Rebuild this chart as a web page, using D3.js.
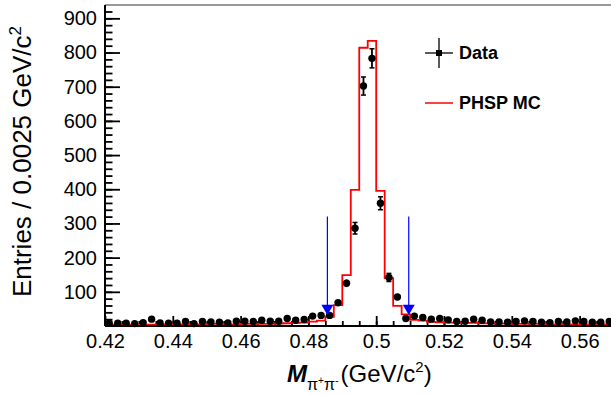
<!DOCTYPE html>
<html>
<head>
<meta charset="utf-8">
<script src="https://cdn.jsdelivr.net/npm/d3@7"></script>
<style>
body { margin: 0; background: #fff; }
svg text { font-family: "Liberation Sans", Arial, Helvetica, sans-serif; }
</style>
</head>
<body>
<div id="chart"></div>
<script>
// histogram binning (GeV/c^2)
var binLow = 0.42;
var binWidth = 0.0025;

// data entries per bin
var dataCounts = [8, 8, 8, 7, 10, 20, 9, 8, 8, 13, 7, 13, 12, 11,
    9, 14, 14, 13, 17, 14, 14, 22, 17, 19, 29, 31, 31, 68,
    125, 286, 702, 783, 359, 142, 85,
    22, 29, 25, 20, 22, 18, 13, 14, 20, 17, 12, 12, 11, 13, 15, 13, 11, 10, 13, 12, 15, 13, 11, 11, 13];

// phase space MC, same binning
var mcCounts = [4, 4, 4, 4, 4, 4, 5, 5, 5, 5,
    5, 5, 6, 6, 5, 5, 6, 6, 6, 6, 7, 8, 9, 10, 13, 16, 27,
    61, 149, 398, 814, 834, 395, 140, 59,
    34, 18, 16, 12, 11, 10, 10, 9, 9, 8, 8,
    7, 7, 6, 6, 6, 6, 5, 5, 5, 5, 5, 5, 5, 5];

// mass window cuts marked with arrows
var cutValues = [0.4856, 0.5096];

var xTickValues = [0.42, 0.44, 0.46, 0.48, 0.50, 0.52, 0.54, 0.56];
var yTickValues = [100, 200, 300, 400, 500, 600, 700, 800, 900];
var legendLabels = ["Data", "PHSP MC"];

var width = 611, height = 396;
var margin = {top: 5, left: 105, bottom: 70};

var svg = d3.select("#chart").append("svg")
    .attr("width", width)
    .attr("height", height);

// x goes on past the right border, the picture is cut there
var x = d3.scaleLinear().domain([0.42, 0.58]).range([margin.left, margin.left + 0.16 * 3390]);
var y = d3.scaleLinear().domain([0, 939]).range([height - margin.bottom, margin.top]);

var bins = dataCounts.map(function (d, i) {
    return {lo: binLow + i * binWidth, mid: binLow + (i + 0.5) * binWidth, n: d, mc: mcCounts[i]};
});

// minor ticks
svg.append("g")
    .attr("transform", "translate(0," + y(0) + ")")
    .call(d3.axisBottom(x).tickValues(d3.range(0, 31).map(i => 0.42 + i * 0.005)).tickSize(-5).tickFormat(""))
    .call(g => g.select(".domain").remove());
svg.append("g")
    .attr("transform", "translate(" + x(0.42) + ",0)")
    .call(d3.axisLeft(y).tickValues(d3.range(20, 939, 20)).tickSize(-7.5).tickFormat(""))
    .call(g => g.select(".domain").remove());

// major ticks with labels
var xAxis = svg.append("g")
    .attr("transform", "translate(0," + y(0) + ")")
    .call(d3.axisBottom(x).tickValues(xTickValues).tickSize(-10).tickPadding(8)
        .tickFormat(d => String(+d.toFixed(2))))
    .call(g => g.select(".domain").remove());
xAxis.selectAll("text").style("font-size", "20px").attr("fill", "#000");

var yAxis = svg.append("g")
    .attr("transform", "translate(" + x(0.42) + ",0)")
    .call(d3.axisLeft(y).tickValues(yTickValues).tickSize(-15).tickPadding(8))
    .call(g => g.select(".domain").remove());
yAxis.selectAll("text").style("font-size", "20px").attr("fill", "#000");

svg.selectAll(".tick line").attr("stroke", "#000").attr("stroke-width", 1.8);

// MC histogram as steps
var stepPts = bins.map(d => [d.lo, d.mc]);
stepPts.push([binLow + bins.length * binWidth, mcCounts[mcCounts.length - 1]]);
svg.append("path")
    .attr("d", d3.line().x(d => x(d[0])).y(d => y(d[1])).curve(d3.curveStepAfter)(stepPts))
    .attr("fill", "none")
    .attr("stroke", "#ff0000")
    .attr("stroke-width", 1.8);

// data error bars (sqrt N) and points
var pts = svg.append("g");
pts.selectAll(".err")
    .data(bins)
    .enter()
    .append("line")
    .attr("x1", d => x(d.mid))
    .attr("x2", d => x(d.mid))
    .attr("y1", d => y(d.n - Math.sqrt(d.n)))
    .attr("y2", d => y(d.n + Math.sqrt(d.n)))
    .attr("stroke", "#000")
    .attr("stroke-width", 1.8);
[-1, 1].forEach(function (s) {
    pts.selectAll(".cap" + s)
        .data(bins.filter(d => Math.sqrt(d.n) * 0.342 > 4))
        .enter()
        .append("line")
        .attr("x1", d => x(d.mid) - 2.5)
        .attr("x2", d => x(d.mid) + 2.5)
        .attr("y1", d => y(d.n + s * Math.sqrt(d.n)))
        .attr("y2", d => y(d.n + s * Math.sqrt(d.n)))
        .attr("stroke", "#000")
        .attr("stroke-width", 1.5);
});
pts.selectAll("circle")
    .data(bins)
    .enter()
    .append("circle")
    .attr("cx", d => x(d.mid))
    .attr("cy", d => y(d.n))
    .attr("r", 3.7)
    .attr("fill", "#000");

// cut arrows
var arrows = svg.selectAll(".cut")
    .data(cutValues)
    .enter()
    .append("g");
arrows.append("line")
    .attr("x1", d => x(d))
    .attr("x2", d => x(d))
    .attr("y1", y(320))
    .attr("y2", y(50))
    .attr("stroke", "#0000ff")
    .attr("stroke-width", 1.2);
arrows.append("path")
    .attr("d", d => "M" + (x(d) - 6) + "," + y(62) + "L" + (x(d) + 6) + "," + y(62) + "L" + x(d) + "," + y(32) + "Z")
    .attr("fill", "#0000ff");

// frame
svg.append("line")
    .attr("x1", x(0.42)).attr("x2", width)
    .attr("y1", margin.top).attr("y2", margin.top)
    .attr("stroke", "#777").attr("stroke-width", 1.5);
svg.append("line")
    .attr("x1", x(0.42)).attr("x2", x(0.42))
    .attr("y1", margin.top).attr("y2", y(0))
    .attr("stroke", "#000").attr("stroke-width", 2);
svg.append("line")
    .attr("x1", x(0.42)).attr("x2", width)
    .attr("y1", y(0)).attr("y2", y(0))
    .attr("stroke", "#000").attr("stroke-width", 2);

// axis titles
var yTitle = svg.append("text")
    .attr("transform", "translate(31,26) rotate(-90)")
    .attr("text-anchor", "end")
    .style("font-size", "26px");
yTitle.append("tspan").text("Entries / 0.0025 GeV/c");
yTitle.append("tspan").attr("dy", -10).style("font-size", "17px").text("2");

var xTitle = svg.append("text")
    .attr("x", 287)
    .attr("y", 382)
    .style("font-size", "24px");
xTitle.append("tspan").style("font-weight", "bold").style("font-style", "italic").text("M");
xTitle.append("tspan").attr("dy", 8).style("font-size", "16px").text("π");
xTitle.append("tspan").attr("dy", -6).style("font-size", "10px").text("+");
xTitle.append("tspan").attr("dy", 6).style("font-size", "16px").text("π");
xTitle.append("tspan").attr("dy", -6).style("font-size", "11px").text("-");
xTitle.append("tspan").attr("dy", -2).attr("dx", 2).text("(GeV/c");
xTitle.append("tspan").attr("dy", -10).style("font-size", "15px").text("2");
xTitle.append("tspan").attr("dy", 10).text(")");

// legend
var legend = svg.selectAll(".legend")
    .data(legendLabels)
    .enter()
    .append("g")
    .attr("transform", (d, i) => "translate(425," + (53 + i * 50) + ")");
legend.filter((d, i) => i === 0).each(function () {
    var g = d3.select(this);
    g.append("line").attr("x1", 0).attr("x2", 28).attr("y1", 0).attr("y2", 0).attr("stroke", "#000").attr("stroke-width", 1.3);
    g.append("line").attr("x1", 14).attr("x2", 14).attr("y1", -15).attr("y2", 15).attr("stroke", "#000").attr("stroke-width", 1.3);
    g.append("rect").attr("x", 11).attr("y", -3).attr("width", 6).attr("height", 6).attr("fill", "#000");
});
legend.filter((d, i) => i === 1).append("line")
    .attr("x1", 0).attr("x2", 28).attr("y1", 0).attr("y2", 0)
    .attr("stroke", "#ff0000").attr("stroke-width", 1.5);
legend.append("text")
    .attr("x", 34)
    .attr("dy", "0.35em")
    .style("font-size", "18px")
    .style("font-weight", "bold")
    .text(d => d);
</script>
</body>
</html>
